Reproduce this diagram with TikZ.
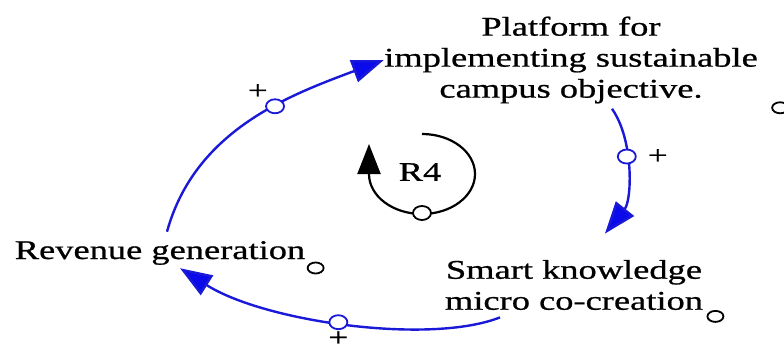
\documentclass[tikz,border=0pt]{standalone}
\usepackage{fontspec}
\setmainfont{Liberation Serif}[FakeStretch=1.35,FakeBold=0.8]
\usetikzlibrary{arrows.meta}
\usetikzlibrary{positioning}
\usetikzlibrary{shapes.geometric}
\definecolor{linkblue}{RGB}{25,25,215}
\definecolor{headblue}{RGB}{10,10,235}

\begin{document}
\begin{tikzpicture}[x=0.5pt,y=-0.5pt,
var/.style={inner sep=0pt, align=center, font=\fontsize{13.5pt}{15.5pt}\selectfont},
link/.style={draw=linkblue, line width=1.2pt, -{Triangle[length=16pt,width=11.5pt,fill=headblue]}},
pole/.style={ellipse, draw=linkblue, fill=white, line width=0.9pt, inner sep=0pt, minimum width=9pt, minimum height=7pt},
varmark/.style={ellipse, draw, line width=0.9pt, inner sep=0pt, minimum width=8pt, minimum height=5.5pt},
plus/.style={inner sep=0pt, font=\fontsize{13pt}{14pt}\selectfont}]
\useasboundingbox (0,0) rectangle (784,354);

\node[var] (plat) at (571,60) {Platform for\\implementing sustainable\\campus objective.};
\node[var] (smart) at (574,285) {Smart knowledge\\micro co-creation};
\node[var, anchor=base] (rev) at (160,259) {Revenue generation};
\node[var] (r4) at (420,172) {R4};

\node[varmark] (platmark) at ([shift={(22,4)}]plat.south east) {};
\node[varmark] (smartmark) at ([shift={(12,6)}]smart.south east) {};
\node[varmark] (revmark) at ([shift={(10,9)}]rev.base east) {};

\draw[link] ([shift={(7,-9)}]rev.north) .. controls (195,130) and (290,95) .. (plat.west)
  node[pole, pos=0.6, label={[plus]135:+}] (p1) {};
\draw[link] ([shift={(41,5)}]plat.south) .. controls (634,140) and (632,200) .. ([shift={(31,-26)}]smart.north)
  node[pole, pos=0.4, label={[plus, xshift=5pt]0:+}] (p2) {};
\draw[link] ([shift={(-74,7)}]smart.south) .. controls (430,345) and (265,322) .. ([shift={(20,3)}]rev.south)
  node[pole, pos=0.52, label={[plus]270:+}] (p3) {};

\draw[line width=1.1pt, -{Triangle[length=15pt,width=11.5pt]}]
  ([shift={(2,-38)}]r4.center) arc[start angle=-90, end angle=180, x radius=53, y radius=40] -- ++(0,-30);
\node[pole, draw=black] (p4) at ([shift={(2,41)}]r4.center) {};
\end{tikzpicture}
\end{document}
